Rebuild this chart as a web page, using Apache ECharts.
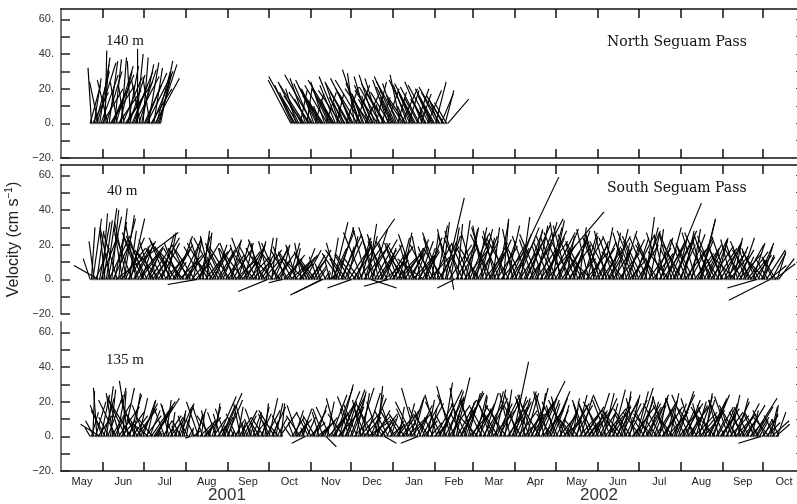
<!DOCTYPE html>
<html><head><meta charset="utf-8">
<script src="https://cdn.jsdelivr.net/npm/echarts@6/dist/echarts.min.js"></script>
<style>html,body{margin:0;padding:0;background:#fff}#c{width:797px;height:504px}</style>
</head><body><div id="c"></div>
<script>
// ---------- tick labels / text ----------
const monthNames = ['Jan','Feb','Mar','Apr','May','Jun','Jul','Aug','Sep','Oct','Nov','Dec'];
const monthStarts = ['2001-05-01','2001-06-01','2001-07-01','2001-08-01','2001-09-01','2001-10-01','2001-11-01','2001-12-01',
  '2002-01-01','2002-02-01','2002-03-01','2002-04-01','2002-05-01','2002-06-01','2002-07-01','2002-08-01','2002-09-01','2002-10-01','2002-11-01'];
const yearNames = ['2001','2002'];
const yearBounds = ['2001-05-01','2002-01-01','2002-11-01'];
const yTicks = [-20,-10,0,10,20,30,40,50,60];
const yLabels = [-20,0,20,40,60];
const depthNames = ['140 m','40 m','135 m'];
const passNames = ['North Seguam Pass','South Seguam Pass'];

// ---------- data: daily velocity sticks (u = east, v = north, cm/s) ----------
// North Seguam Pass, 140 m, first deployment segment
const n140aStart = '2001-05-22';
const n140a_u = [6,-2,9,4,8,11,-5,6,10,12, 3,1,9,-6,5,14,8,12,4,10, -4,13,7,3,11,-3,10,15,6,9, -2,12,8,14,4,0,10,-5,7,3, 13,9,15,6,-4,12,10,5,14,8, 11,7,7];
const n140a_v = [22,32,18,26,30,35,24,38,28,20, 34,42,30,25,36,22,18,28,37,33, 24,19,30,38,26,21,15,24,33,28, 36,30,22,27,40,43,31,25,34,38, 29,22,30,35,27,20,24,32,26,30, 34,28,36];
// North Seguam Pass, 140 m, second segment
const n140bStart = '2001-10-17';
const n140b_u = [-13,-10,-8,-15,-6,-9,-12,4,-7,-11,-14,-9,3,-8,-12,
  -10,-16,-7,5,-12,-9,-6,-4,-11,-14,-8,6,-13,-7,-5,
  -6,-12,-15,-9,4,-11,-8,-13,-5,-3,-9,7,-10,-14,-6,
  -9,-13,-4,8,-11,-7,-10,-15,-6,-5,9,-12,-8,-14,-7,
  -6,-11,-9,6,-13,-8,-12,5,-4,-10,-14,7,-9,-11,-6,
  -7,-10,-12,-8,5,-13,-6,9,-9,-4,-11,-8,6,-12,-7,
  -5,-9,-12,7,-8,-11,6,-10,-6,-3,-9,8,-12,-7,-5,
  -8,-11,6,-9,-5,-12,7,-6,-10,5,-7,12];
const n140b_v = [25,22,18,27,20,15,24,19,12,16,22,26,21,14,18,
  23,28,20,17,25,19,13,10,16,21,24,18,22,15,11,
  14,20,25,22,17,27,23,19,12,9,15,21,18,24,16,
  20,26,29,22,18,24,31,25,17,12,19,23,27,20,14,
  16,22,28,24,19,26,21,15,11,17,23,20,25,18,13,
  15,21,27,23,18,24,28,20,14,10,16,22,19,25,17,
  12,18,23,20,15,21,17,24,13,9,14,19,22,16,11,
  15,20,24,18,13,21,17,11,16,19,12,14];
// South Seguam Pass, 40 m
const s40Start = '2001-05-22';
const s40_u = [
  -4,2,5,-3,8,4,-14,6,10,3,
  5,-3,6,8,12,-6,4,10,7,36,-8,5,9,14,-5,6,11,-7,13,4,8,-10,9,12,-6,15,-9,11,7,-12,
  -8,10,-12,6,13,-7,9,-11,14,-5,8,-13,11,7,-10,12,-9,5,14,-6,-13,10,7,-12,9,-8,13,-10,11,-14,8,
  11,-9,7,-13,10,5,-11,8,-17,12,6,-10,4,-8,13,3,-12,9,-6,11,-10,7,-13,10,-7,12,-9,6,-11,8,-5,
  9,-12,6,11,-8,13,-10,7,12,-6,9,-11,5,10,-9,12,-7,8,11,-13,6,-10,9,-5,12,-8,10,-11,4,-17,
  -6,10,3,-12,8,11,-9,7,-11,5,-8,12,-7,9,-10,6,11,-8,4,12,-6,-11,8,10,-4,7,-12,9,-7,10,-9,
  8,-7,10,-9,6,-5,4,-3,-16,-19,3,-4,2,5,-3,4,8,8,11,-6,9,-10,12,7,-8,10,-12,6,13,-9,
  -14,24,10,-12,8,13,-9,6,-11,14,7,-8,5,12,15,9,-7,13,-10,11,-6,8,12,-9,14,6,-11,-14,9,-7,12,
  9,-11,12,-7,6,13,-10,5,11,-8,-12,9,-6,10,13,-9,7,-11,12,8,-5,10,-13,6,9,-10,12,-7,4,11,-9,
  -7,6,12,-10,9,4,-12,11,8,-6,13,5,1,-9,-10,12,3,-8,10,5,-11,14,7,-9,6,11,-8,10,
  10,-8,6,12,-11,7,9,-6,13,5,-9,11,8,-12,4,10,-7,12,6,-10,14,8,3,-9,11,7,-13,28,10,-6,12,
  9,-7,12,15,5,-10,11,8,14,-9,13,7,18,-8,10,12,6,-11,16,9,-6,13,11,33,8,-9,14,7,-10,12,
  -9,12,8,-6,14,-11,9,5,-8,13,7,-12,10,6,-10,11,-7,4,13,-9,8,-11,12,6,-7,10,-13,9,-5,11,-8,
  10,-8,12,6,-11,9,-7,13,8,-12,5,11,-9,7,-6,12,-10,9,4,-13,11,-8,6,10,-9,13,-7,8,-11,12,
  -9,11,7,-12,8,5,-10,13,6,-8,12,-11,9,4,-13,10,7,-9,12,-6,11,8,-12,18,-7,10,13,-9,6,-11,9,
  8,-11,6,12,-9,10,-7,13,5,-10,11,-8,9,12,9,8,-6,10,-12,7,11,-9,13,-7,8,-10,12,6,-13,9,-8,
  -8,10,12,-9,7,11,-6,9,5,-12,10,-7,13,8,-10,6,11,-9,12,-6,9,-11,7,10,-8,-17,9,-10,8,6,
  6,-9,11,-7,10,-24,8,-6,12,-8,5,9];
const s40_v = [
  12,30,35,22,18,28,8,33,26,38,
  34,28,41,36,25,30,40,22,33,27,27,41,35,18,30,37,24,33,20,28,35,26,17,22,31,19,25,15,21,27,
  22,18,25,14,20,23,12,17,24,19,11,16,21,26,18,13,22,27,20,15,24,17,10,19,25,21,14,18,23,16,12,
  15,20,24,18,12,22,17,9,-3,21,25,19,28,23,16,27,21,14,25,18,11,20,24,17,13,22,19,15,21,12,18,
  14,19,23,17,21,12,18,22,16,20,10,15,21,18,24,13,17,20,11,16,22,19,14,21,17,23,12,18,24,-7,
  22,17,24,13,19,15,21,11,16,20,-2,14,19,12,17,21,10,15,18,13,20,16,9,14,21,18,12,17,15,11,16,
  14,10,17,12,8,13,6,9,-8,-9,5,7,4,3,11,24,18,33,28,21,30,15,26,19,12,22,17,25,20,14,
  -5,35,20,15,24,18,12,22,27,19,25,30,32,21,-5,29,26,23,30,17,24,14,20,26,11,18,22,-4,15,21,19,
  17,22,13,19,24,16,21,27,18,11,21,15,20,23,14,26,19,12,17,22,25,16,10,18,24,20,13,19,26,21,15,
  24,31,19,27,22,33,18,47,25,29,20,30,-6,26,-5,22,32,28,19,34,24,17,29,21,30,26,18,23,
  20,27,30,22,18,29,25,31,17,24,30,21,14,26,30,23,28,19,33,25,16,22,35,27,20,31,24,59,18,29,23,
  26,19,30,24,36,21,28,17,32,25,20,29,35,23,27,18,31,26,22,33,19,28,24,39,30,21,27,34,25,20,
  24,29,18,33,22,27,16,25,31,20,14,23,28,19,26,12,21,30,24,17,27,22,15,25,29,20,13,22,26,18,24,
  21,26,17,30,23,19,28,25,14,22,27,18,24,29,20,15,25,28,21,16,23,27,19,12,22,26,18,24,28,20,
  22,27,19,25,30,36,24,18,28,21,15,26,23,29,20,17,24,27,19,25,22,30,16,44,26,21,28,18,24,27,20,
  25,20,28,17,23,26,19,24,29,21,15,27,22,18,35,34,24,20,27,16,23,26,19,14,22,25,18,24,21,15,20,
  18,22,16,25,20,14,23,19,24,12,17,21,15,24,18,13,20,22,16,19,11,17,21,14,18,-5,21,16,13,19,
  14,10,17,12,8,-12,15,11,9,13,16,12];
// South Seguam Pass, 135 m
const s135Start = '2001-05-22';
const s135_u = [
  -3,4,1,-5,6,-2,8,-11,5,-7,
  6,-8,4,9,-6,3,11,-4,7,-10,5,12,-7,8,2,6,-9,10,-5,7,-11,9,4,-8,12,-6,5,10,-9,7,
  -7,9,5,-10,6,14,-8,11,14,7,2,-1,1,-2,5,-6,3,8,-4,6,2,-7,5,1,-3,4,7,-5,2,6,-4,
  3,-4,2,-3,1,4,-5,6,3,-7,8,2,-6,5,9,-3,4,1,-8,5,7,3,-5,6,10,-4,8,11,5,-6,9,
  4,-3,2,1,-2,5,-6,3,7,-4,2,8,-5,6,-3,1,2,-4,5,7,-6,3,1,-5,6,4,-7,2,8,-3,
  5,-7,8,3,-9,4,6,-5,10,2,-6,null,null,null,null,null,-4,7,-3,5,9,-6,4,-8,6,3,-2,-8,5,-7,9,
  -5,8,3,-7,6,10,-4,5,9,-6,2,6,4,11,-8,9,7,12,10,-6,13,8,11,7,-9,12,6,10,-5,8,
  7,-9,11,6,-8,9,12,-5,4,10,-7,8,13,-6,9,11,-10,5,8,3,-7,10,6,-3,7,-4,5,-8,9,4,-6,
  6,-8,4,9,3,-6,10,7,-9,5,11,-7,8,12,-10,6,-8,9,-10,5,-7,11,8,-6,10,4,-9,7,3,-5,8,
  10,-7,8,13,-9,6,5,11,-6,9,12,-8,7,4,-10,8,11,-5,9,13,-7,6,10,-9,7,12,-6,9,
  -8,10,6,-11,9,4,-7,12,8,-9,5,11,-6,7,13,-10,6,9,-8,12,5,-7,10,4,-12,8,11,-6,9,9,7,
  9,-7,11,6,-10,8,12,-5,7,10,-8,13,5,-9,11,7,16,4,-11,9,12,-6,8,10,-7,6,11,-9,8,-5,
  7,-9,10,5,-6,11,8,-10,6,12,-7,9,4,-11,10,6,-8,13,7,-5,9,11,-8,6,10,-7,12,5,-9,8,6,
  -7,10,8,-11,6,12,-8,9,5,-10,11,7,-6,13,8,-9,6,10,-12,4,9,-7,11,6,-10,8,12,-5,7,9,
  8,-10,11,6,-7,9,12,-8,5,10,-11,7,13,-6,9,4,-10,8,11,-7,6,12,-9,5,10,-8,7,11,-6,9,12,
  -9,7,11,-6,8,12,-10,5,9,-7,13,6,-11,8,10,-5,7,12,4,-9,11,6,-8,10,7,-12,5,9,-6,11,8,
  7,-9,10,6,-8,11,5,-7,9,12,-10,6,8,-5,10,7,-9,11,6,-8,9,4,14,-6,10,7,-8,5,-13,9,
  5,-7,8,6,-9,4,10,3,-6,8,5,-4];
const s135_v = [
  5,14,26,9,20,28,12,7,24,18,
  22,15,29,24,11,27,19,25,13,21,28,17,23,9,26,28,20,14,32,24,18,12,25,21,16,10,22,19,13,20,
  18,12,21,8,15,20,10,17,22,14,3,2,2,4,9,16,21,12,18,7,14,19,11,3,6,13,17,9,15,19,12,
  16,8,4,-1,5,3,10,16,12,20,8,14,18,6,11,15,9,4,12,17,10,19,14,7,23,13,18,25,11,16,21,
  14,6,3,2,5,9,13,17,11,19,8,15,18,12,7,4,6,10,14,9,16,12,5,8,13,17,11,19,15,9,
  22,13,17,9,15,19,11,6,14,19,12,null,null,null,null,null,6,11,8,15,10,18,7,12,16,9,5,-4,11,14,8,
  10,15,7,12,18,9,14,6,11,16,5,-6,20,13,17,24,11,19,28,22,15,30,26,18,13,24,20,27,16,21,
  17,23,12,26,19,28,14,21,25,11,18,25,9,16,22,12,19,24,15,29,20,13,8,4,-4,6,10,15,7,12,17,
  9,14,6,12,17,10,15,8,13,19,11,16,22,14,20,23,28,18,-4,12,17,21,9,15,19,21,13,8,16,11,7,
  19,24,14,27,20,16,31,23,12,26,18,29,22,15,24,34,21,28,17,25,13,20,26,19,25,14,22,18,
  21,16,24,12,19,23,14,20,25,17,11,22,18,26,15,21,27,19,13,24,20,16,22,27,18,12,21,25,17,43,23,
  20,24,15,22,18,26,13,21,25,17,23,19,14,24,20,28,32,25,18,22,15,26,21,17,24,19,26,13,22,18,
  15,20,12,18,23,9,16,21,14,19,11,17,22,13,18,24,10,15,23,19,12,17,21,8,14,20,16,11,19,25,15,
  18,22,13,20,25,16,21,12,19,24,17,27,14,20,23,11,18,22,15,26,19,13,21,24,16,10,17,22,26,28,
  20,14,19,23,11,17,22,15,20,24,13,18,21,9,16,22,19,12,17,23,20,14,18,25,16,11,19,24,21,26,17,
  22,15,19,13,21,17,24,11,18,22,14,20,16,23,12,19,21,15,25,17,22,13,18,24,20,14,10,17,21,16,12,
  17,21,14,19,23,12,24,16,20,13,18,22,11,15,19,9,14,18,12,16,10,15,22,13,17,11,14,9,-4,12,
  10,15,8,13,11,17,9,18,12,7,14,10];

// ---------- helpers ----------
function parseDay(s, add){ const p = s.split('-'); return new Date(+p[0], +p[1]-1, +p[2] + (add||0)).getTime(); }
function dayTime(start, i){ return parseDay(start, i) + 12*3600*1000; }
function sticks(start, u, v){ const out=[]; for(let i=0;i<v.length;i++){ if(v[i]!==null) out.push([dayTime(start,i), u[i], v[i]]); } return out; }
function baseline(start, v){ return v.map((val,i)=>[dayTime(start,i), val===null?'-':0]); }

const msT = monthStarts.map(s=>parseDay(s));
const xMin = msT[0];
const xMax = msT[msT.length-1];
const tickTimes = msT.slice(1,-1);
const labelTimes = msT.slice(0,-1).map((t,i)=>(t+msT[i+1])/2);
const ybT = yearBounds.map(s=>parseDay(s));
const yearTimes = ybT.slice(0,-1).map((t,i)=>(t+ybT[i+1])/2);

const grids = [
  {left:61, width:744, top:9, height:149, outerBoundsMode:'none'},
  {left:61, width:744, top:165, height:149, outerBoundsMode:'none'},
  {left:61, width:744, top:322, height:149, outerBoundsMode:'none'}
];

function xAx(grid, pos, opts){
  return Object.assign({
    type:'value', gridIndex:grid, position:pos, min:xMin, max:xMax, scale:true,
    axisLine:{show:true, onZero:false, lineStyle:{color:'#111', width:1.5}},
    axisTick:{show:true, inside:true, length:9, customValues:tickTimes, lineStyle:{color:'#111', width:1.5}},
    axisLabel:{show:false}, splitLine:{show:false}
  }, opts||{});
}
function yAx(grid, pos, opts){
  const left = pos==='left';
  return Object.assign({
    type:'value', gridIndex:grid, position:pos, min:-20, max:66,
    axisLine:{show:true, onZero:false, lineStyle:{color: left?'#666':'#444', width: left?1.8:1}},
    axisTick:{show:true, inside:true, length:9, customValues:yTicks, lineStyle:{color:left?'#222':'#555', width:left?1.5:1}},
    axisLabel: left ? {show:true, customValues:yLabels, margin:7, fontSize:11, fontFamily:'Liberation Sans', color:'#333',
      formatter:v=> (v<0 ? '\u2212'+(-v) : String(v)) + '.'} : {show:false},
    splitLine:{show:false}
  }, opts||{});
}

const xAxes = [
  xAx(0,'bottom'), xAx(0,'top'), xAx(1,'top'),
  xAx(2,'bottom',{axisLabel:{show:true, customValues:labelTimes, margin:5, fontSize:11, fontFamily:'Liberation Sans', color:'#222', hideOverlap:false,
    formatter:v=>monthNames[new Date(v).getMonth()]}}),
  xAx(2,'bottom',{axisLine:{show:false}, axisTick:{show:false},
    axisLabel:{show:true, customValues:yearTimes, margin:16, fontSize:17, fontFamily:'Liberation Sans', color:'#333', hideOverlap:false,
    formatter:v=>{const y=String(new Date(v).getFullYear()); return yearNames.indexOf(y)>=0?y:'';}}})
];
const yAxes = [
  yAx(0,'left'), yAx(0,'right'),
  yAx(1,'left',{name:'Velocity (cm s{sup|\u22121})', nameLocation:'middle', nameGap:33, nameRotate:90,
    nameTextStyle:{fontSize:16, fontFamily:'Liberation Sans', color:'#222',
      rich:{sup:{fontSize:10, fontFamily:'Liberation Sans', color:'#222', verticalAlign:'bottom', padding:[0,0,8,0]}}}}),
  yAx(1,'right'),
  yAx(2,'left'), yAx(2,'right')
];

function renderStick(params, api){
  const t = api.value(0), u = api.value(1), v = api.value(2);
  const p0 = api.coord([t, 0]);
  const p1 = api.coord([t, v]);
  const k = api.size([0, 1])[1];
  return {type:'line', shape:{x1:p0[0], y1:p0[1], x2:p0[0] + u*k, y2:p1[1]},
    style:{stroke:'#000', lineWidth:1.15}};
}
function stickSeries(xi, yi, start, u, v){
  return {type:'custom', xAxisIndex:xi, yAxisIndex:yi, data:sticks(start,u,v), renderItem:renderStick,
    encode:{x:0, y:2}, clip:false, silent:true, z:3};
}
function baseSeries(xi, yi, start, v){
  return {type:'line', xAxisIndex:xi, yAxisIndex:yi, data:baseline(start,v), showSymbol:false, symbol:'none',
    connectNulls:false, lineStyle:{color:'#999', width:2}, silent:true, z:2};
}

const series = [
  baseSeries(0,0,n140aStart,n140a_v), stickSeries(0,0,n140aStart,n140a_u,n140a_v),
  baseSeries(0,0,n140bStart,n140b_v), stickSeries(0,0,n140bStart,n140b_u,n140b_v),
  baseSeries(2,2,s40Start,s40_v), stickSeries(2,2,s40Start,s40_u,s40_v),
  baseSeries(3,4,s135Start,s135_v), stickSeries(3,4,s135Start,s135_u,s135_v)
];

const serif = {fontFamily:'Liberation Serif', fontSize:15, fontWeight:'normal', color:'#111'};
const serif2 = {fontFamily:'DejaVu Serif', fontSize:14, fontWeight:'normal', color:'#111'};
const titles = [
  {text:depthNames[0], left:106, top:34, padding:0, textStyle:serif},
  {text:depthNames[1], left:107, top:184, padding:0, textStyle:serif},
  {text:depthNames[2], left:106, top:353, padding:0, textStyle:serif},
  {text:passNames[0], left:607, top:35, padding:0, textStyle:serif2},
  {text:passNames[1], left:607, top:181, padding:0, textStyle:serif2}
];

const chart = echarts.init(document.getElementById('c'), null, {renderer:'canvas'});
chart.setOption({
  animation:false, backgroundColor:'#fff',
  title:titles, grid:grids, xAxis:xAxes, yAxis:yAxes, series:series
});
</script></body></html>
